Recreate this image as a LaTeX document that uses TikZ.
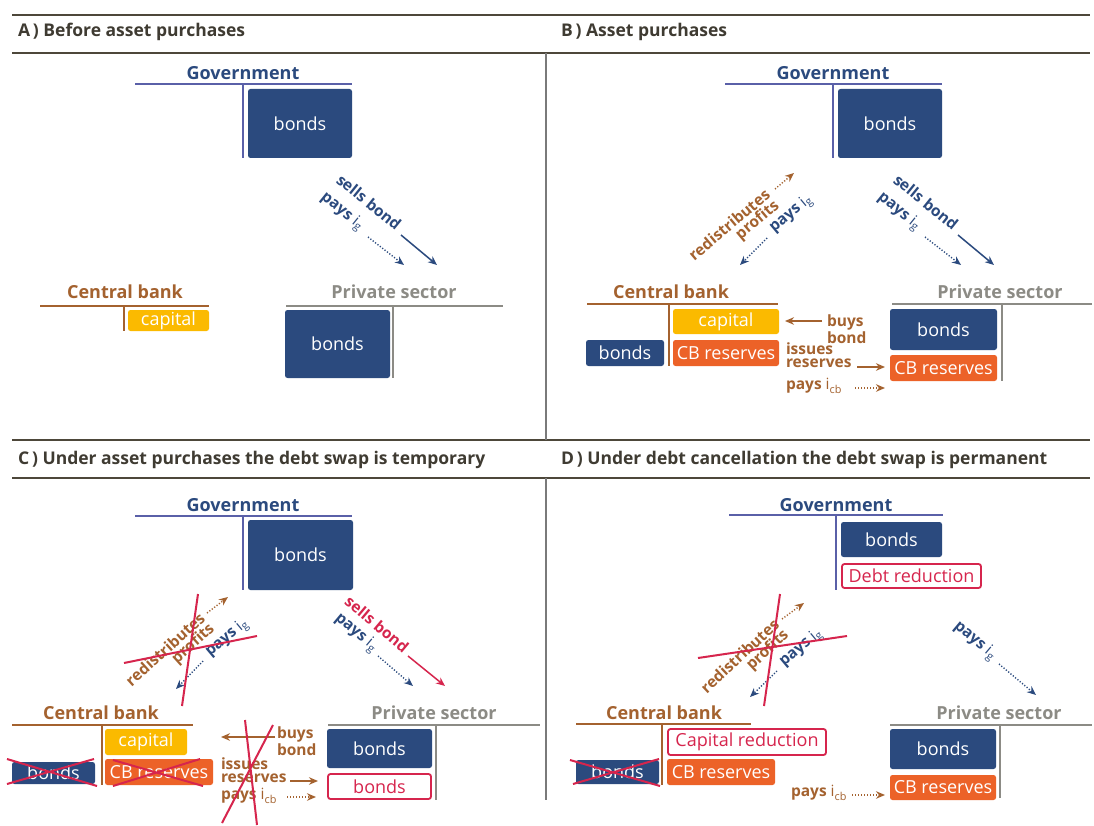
\documentclass[tikz,border=0pt]{standalone}
\usepackage{fontspec}
\setmainfont{Open Sans}
\usetikzlibrary{arrows.meta}
\definecolor{navy}{HTML}{2B4A7E}
\definecolor{govl}{HTML}{5A60A8}
\definecolor{cbrown}{HTML}{A4622F}
\definecolor{pgray}{HTML}{8C8B85}
\definecolor{cyellow}{HTML}{FBBA00}
\definecolor{corange}{HTML}{EC6228}
\definecolor{cred}{HTML}{D6254D}
\definecolor{headtext}{HTML}{3F3B32}
\definecolor{headline}{HTML}{4D473A}
\definecolor{divl}{HTML}{7A7A7A}
\begin{document}
\begin{tikzpicture}[x=1pt,y=-1pt,
  every node/.style={inner sep=0pt, outer sep=0pt},
  hdr/.style={font=\fontsize{17.5}{20}\selectfont\bfseries, text=headtext, anchor=west},
  acct/.style={font=\fontsize{18}{20}\selectfont\bfseries},
  bx/.style={rounded corners=2.5pt, font=\fontsize{18}{20}\selectfont, text=white, anchor=north west},
  navybox/.style={bx, fill=navy},
  yelbox/.style={bx, fill=cyellow},
  orbox/.style={bx, fill=corange},
  redbox/.style={bx, draw=cred, line width=1.8pt, fill=white, text=cred},
  lab/.style={font=\fontsize{15.5}{13.5}\selectfont\bfseries},
  tline/.style={line width=2pt},
  hline/.style={draw=headline, line width=1.2pt},
  solidarr/.style={line width=1.5pt, -{Stealth[length=9pt,width=7.5pt]}},
  dotarr/.style={line width=1.4pt, dash pattern=on 1.2pt off 1.8pt, -{Stealth[length=9pt,width=7.5pt]}},
  xline/.style={draw=cred, line width=2pt},
]
\useasboundingbox (0,0) rectangle (1094,826);
\fill[white] (0,0) rectangle (1094,826);

% ---------- frame ----------
\draw[hline] (12,15) -- (1090,15);
\draw[hline] (12,53) -- (1090,53);
\draw[hline] (12,440) -- (1090,440);
\draw[hline] (12,478) -- (1090,478);
\draw[draw=divl, line width=1.2pt] (546,53) -- (546,440);
\draw[draw=divl, line width=1.2pt] (546,478) -- (546,800);
\node[hdr] (hA) at (18,32) {A\,) Before asset purchases};
\node[hdr] (hB) at (561,32) {B\,) Asset purchases};
\node[hdr] (hC) at (18,460) {C\,) Under asset purchases the debt swap is temporary};
\node[hdr] (hD) at (561,460) {D\,) Under debt cancellation the debt swap is permanent};

% ================= PANEL A =================
\node[acct, text=navy] (govA) at (243,73) {Government};
\draw[tline, govl] (135,84) -- (352,84) (243,84) -- (243,158);
\node[navybox, minimum width=104pt, minimum height=69pt] (gbA) at (248,89) {bonds};

\node[acct, text=cbrown] (cbA) at (125,292) {Central bank};
\draw[tline, cbrown] (40,306) -- (209,306) (124,306) -- (124,331);
\node[yelbox, minimum width=81pt, minimum height=21pt] (capA) at (128,310) {capital};

\node[acct, text=pgray] (psA) at (394,292) {Private sector};
\draw[tline, pgray] (286,306) -- (503,306) (393,306) -- (393,378);
\node[navybox, minimum width=105pt, minimum height=68pt] (pbA) at (285,310) {bonds};

\node[lab, text=navy, rotate=-39] (sbA) at (369,202) {sells bond};
\node[lab, text=navy, rotate=-39] (pgA) at (342,212) {pays \mdseries i\textsubscript{g}};
\coordinate (sbA1) at (401,235); \coordinate (sbA2) at (437,265);
\coordinate (pgA1) at (368,237); \coordinate (pgA2) at (404,265);
\draw[solidarr, navy] (sbA1) -- (sbA2);
\draw[dotarr, navy] (pgA1) -- (pgA2);

% ================= PANEL B =================
\node[acct, text=navy] (govB) at (833,73) {Government};
\draw[tline, govl] (725,84) -- (942,84) (833,84) -- (833,158);
\node[navybox, minimum width=104pt, minimum height=69pt] (gbB) at (838,89) {bonds};

\node[acct, text=cbrown] (cbB) at (671,292) {Central bank};
\draw[tline, cbrown] (587,304) -- (778,304) (669,304) -- (669,366);
\node[yelbox, minimum width=106pt, minimum height=25pt] (capB) at (673,309) {capital};
\node[orbox, minimum width=106pt, minimum height=26pt] (cbrB) at (673,340) {CB reserves};
\node[navybox, minimum width=78pt, minimum height=26pt] (cbbB) at (586,340) {bonds};

\node[acct, text=pgray] (psB) at (1000,292) {Private sector};
\draw[tline, pgray] (892,304) -- (1092,304) (1002,304) -- (1002,381);
\node[navybox, minimum width=107pt, minimum height=41pt] (pbB) at (890,309) {bonds};
\node[orbox, minimum width=107pt, minimum height=26pt] (prB) at (890,355) {CB reserves};

\node[lab, text=navy, rotate=-39] (sbB) at (926,202) {sells bond};
\node[lab, text=navy, rotate=-39] (pgB) at (899,212) {pays \mdseries i\textsubscript{g}};
\coordinate (sbB1) at (958,235); \coordinate (sbB2) at (994,265);
\coordinate (pgB1) at (925,237); \coordinate (pgB2) at (961,265);
\draw[solidarr, navy] (sbB1) -- (sbB2);
\draw[dotarr, navy] (pgB1) -- (pgB2);

\node[lab, text=cbrown, rotate=40, align=right, anchor=east] (rpB) at (773,199) {redistributes\\profits};
\coordinate (rpB1) at (775,189); \coordinate (rpB2) at (794,173);
\draw[dotarr, cbrown] (rpB1) -- (rpB2);
\node[lab, text=navy, rotate=40, anchor=west] (pcB) at (772,230) {pays \mdseries i\textsubscript{g}};
\coordinate (pcB1) at (767,238); \coordinate (pcB2) at (740,265);
\draw[dotarr, navy] (pcB1) -- (pcB2);

\node[lab, text=cbrown, align=left, anchor=west] (bbB) at (827,329) {buys\\bond};
\coordinate (bbB1) at (822,321); \coordinate (bbB2) at (785,321);
\draw[solidarr, cbrown] (bbB1) -- (bbB2);
\node[lab, text=cbrown, align=left, anchor=west] (irB) at (786,355) {issues\\reserves};
\coordinate (irB1) at (857,367); \coordinate (irB2) at (885,367);
\draw[solidarr, cbrown] (irB1) -- (irB2);
\node[lab, text=cbrown, anchor=west] (piB) at (786,386) {pays \mdseries i\textsubscript{cb}};
\coordinate (piB1) at (855,388); \coordinate (piB2) at (885,388);
\draw[dotarr, cbrown] (piB1) -- (piB2);

% ================= PANEL C =================
\node[acct, text=navy] (govC) at (243,505) {Government};
\draw[tline, govl] (135,516) -- (352,516) (243,516) -- (243,590);
\node[navybox, minimum width=105pt, minimum height=70pt] (gbC) at (248,520) {bonds};

\node[acct, text=cbrown] (cbC) at (101,713) {Central bank};
\draw[tline, cbrown] (12,725) -- (193,725) (102,725) -- (102,785);
\node[yelbox, minimum width=82pt, minimum height=26pt] (capC) at (105,729) {capital};
\node[orbox, minimum width=108pt, minimum height=26pt] (cbrC) at (105,759) {CB reserves};
\node[navybox, minimum width=83pt, minimum height=22pt] (cbbC) at (12,762) {bonds};
\draw[xline] (7,759) -- (97,786) (7,784) -- (94,759);
\draw[xline] (113,760) -- (203,786) (113,786) -- (200,759);

\node[acct, text=pgray] (psC) at (434,713) {Private sector};
\draw[tline, pgray] (328,725) -- (540,725) (436,725) -- (436,800);
\node[navybox, minimum width=105pt, minimum height=39pt] (pbC) at (327,729) {bonds};
\node[redbox, minimum width=103pt, minimum height=25pt] (prC) at (328,774) {bonds};

\node[lab, text=cred, rotate=-40] (sbC) at (377,624) {sells bond};
\node[lab, text=navy, rotate=-40] (pgC) at (356,633) {pays \mdseries i\textsubscript{g}};
\coordinate (sbC1) at (408,656); \coordinate (sbC2) at (445,686);
\coordinate (pgC1) at (378,656); \coordinate (pgC2) at (413,686);
\draw[solidarr, cred] (sbC1) -- (sbC2);
\draw[dotarr, navy] (pgC1) -- (pgC2);

\node[lab, text=cbrown, rotate=42, align=right, anchor=east] (rpC) at (208,622) {redistributes\\profits};
\coordinate (rpC1) at (207,613); \coordinate (rpC2) at (228,597);
\draw[dotarr, cbrown] (rpC1) -- (rpC2);
\node[lab, text=navy, rotate=40, anchor=west] (pcC) at (208,654) {pays \mdseries i\textsubscript{g}};
\coordinate (pcC1) at (203,661); \coordinate (pcC2) at (176,689);
\draw[dotarr, navy] (pcC1) -- (pcC2);
\draw[xline] (198,594) -- (182,706) (124,663) -- (257,636);

\node[lab, text=cbrown, align=left, anchor=west] (bbC) at (277,741) {buys\\bond};
\coordinate (bbC1) at (275,737); \coordinate (bbC2) at (221,737);
\draw[solidarr, cbrown] (bbC1) -- (bbC2);
\node[lab, text=cbrown, align=left, anchor=west] (irC) at (221,770) {issues\\reserves};
\coordinate (irC1) at (290,781); \coordinate (irC2) at (318,781);
\draw[solidarr, cbrown] (irC1) -- (irC2);
\node[lab, text=cbrown, anchor=west] (piC) at (221,796) {pays \mdseries i\textsubscript{cb}};
\coordinate (piC1) at (287,797); \coordinate (piC2) at (316,797);
\draw[dotarr, cbrown] (piC1) -- (piC2);
\draw[xline] (245,720) -- (257,825) (273,725) -- (222,823);

% ================= PANEL D =================
\node[acct, text=navy] (govD) at (836,505) {Government};
\draw[tline, govl] (729,515) -- (943,515) (836,515) -- (836,590);
\node[navybox, minimum width=101pt, minimum height=35pt] (gbD) at (841,522) {bonds};
\node[redbox, minimum width=139pt, minimum height=24pt] (drD) at (842,564) {Debt reduction};

\node[acct, text=cbrown] (cbD) at (664,713) {Central bank};
\draw[tline, cbrown] (576,724) -- (751,724) (662,724) -- (662,785);
\node[redbox, minimum width=158pt, minimum height=26pt] (crD) at (668,729) {Capital reduction};
\node[orbox, minimum width=108pt, minimum height=26pt] (cbrD) at (667,759) {CB reserves};
\node[navybox, minimum width=83pt, minimum height=24pt] (cbbD) at (576,760) {bonds};
\draw[xline] (570,760) -- (660,786) (573,784) -- (659,759);

\node[acct, text=pgray] (psD) at (999,713) {Private sector};
\draw[tline, pgray] (890,725) -- (1092,725) (1000,725) -- (1000,798);
\node[navybox, minimum width=106pt, minimum height=40pt] (pbD) at (890,729) {bonds};
\node[orbox, minimum width=106pt, minimum height=25pt] (prD) at (890,775) {CB reserves};

\node[lab, text=navy, rotate=-40] (pgD) at (975,641) {pays \mdseries i\textsubscript{g}};
\coordinate (pgD1) at (999,664); \coordinate (pgD2) at (1036,695);
\draw[dotarr, navy] (pgD1) -- (pgD2);

\node[lab, text=cbrown, rotate=43, align=right, anchor=east] (rpD) at (782,628) {redistributes\\profits};
\coordinate (rpD1) at (782,619); \coordinate (rpD2) at (804,603);
\draw[dotarr, cbrown] (rpD1) -- (rpD2);
\node[lab, text=navy, rotate=40, anchor=west] (pcD) at (782,664) {pays \mdseries i\textsubscript{g}};
\coordinate (pcD1) at (777,671); \coordinate (pcD2) at (750,697);
\draw[dotarr, navy] (pcD1) -- (pcD2);
\draw[xline] (780,594) -- (764,706) (698,658) -- (847,636);

\node[lab, text=cbrown, anchor=west] (piD) at (791,793) {pays \mdseries i\textsubscript{cb}};
\coordinate (piD1) at (852,795); \coordinate (piD2) at (885,795);
\draw[dotarr, cbrown] (piD1) -- (piD2);
\end{tikzpicture}
\end{document}
